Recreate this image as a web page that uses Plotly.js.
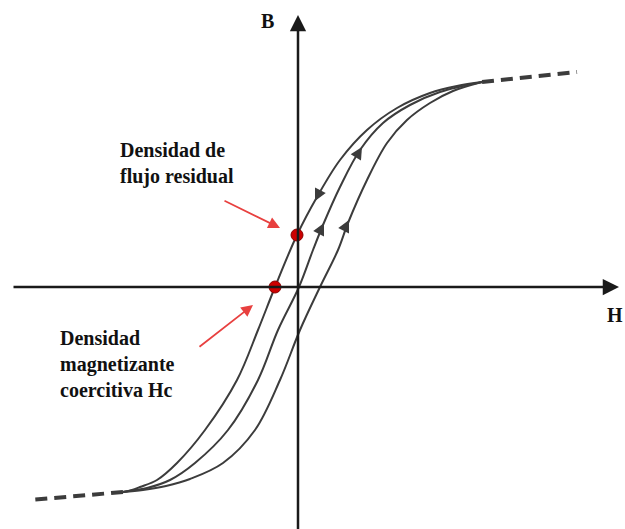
<!DOCTYPE html>
<html>
<head>
<meta charset="utf-8">
<script src="https://cdn.plot.ly/plotly-3.0.1.min.js"></script>
<style>html,body{margin:0;padding:0;background:#fff}#chart{width:625px;height:529px}</style>
</head>
<body>
<div id="chart"></div>
<script>
// Hysteresis loop, H (horizontal) vs B (vertical); units follow the picture
const leftH   = [-175,-166,-158,-141,-121,-93,-61,-40,-23,-1,19,42,69,99,132,159,184];
const leftB   = [-205,-203,-200,-193,-176,-143,-93,-43,0,52,90,127,157,179,194,201,205];
const midH    = [-175,-163,-151,-128,-103,-70,-40,-20,1,15,25,42,62,85,112,142,184];
const midB    = [-205,-203,-201,-193,-176,-143,-93,-43,0,37,62,100,137,164,182,195,205];
const rightH  = [-175,-155,-132,-108,-75,-43,-18,2,22,40,50,69,89,109,132,155,184];
const rightB  = [-205,-203,-199,-192,-176,-143,-93,-43,0,37,64,107,144,167,184,196,205];
const satTopH = [184,279];
const satTopB = [205,215];
const satBotH = [-175,-268];
const satBotB = [-205,-213];
// red points: coercive field and residual flux density
const ptH = [-23,-1];
const ptB = [0,52];
// direction arrows on branches: [tipH, tipB, tailH, tailB]
const dirArrows = [
  [17,86,22,96],
  [64,140,58,130],
  [26,64,21,54],
  [51,67,46,57]
];
// axes arrows
const axisX = {from:[-286,0], to:[321,0]};
const axisY = {from:[0,-245], to:[0,272]};
// callout arrows
const callouts = [
  {from:[-75,87], to:[-18,59]},
  {from:[-100,-61], to:[-45,-18]}
];
const labels = [
  {text:'Densidad de<br>flujo residual', H:-180, B:124},
  {text:'Densidad<br>magnetizante<br>coercitiva Hc', H:-240, B:-77}
];

const curveLine = {color:'#3c3c3c', width:2, shape:'spline', smoothing:1};
const dashLine = {color:'#3c3c3c', width:4, dash:'12px,7px'};
const traces = [
  {x:leftH, y:leftB, mode:'lines', line:curveLine, hoverinfo:'skip'},
  {x:midH, y:midB, mode:'lines', line:curveLine, hoverinfo:'skip'},
  {x:rightH, y:rightB, mode:'lines', line:curveLine, hoverinfo:'skip'},
  {x:satTopH, y:satTopB, mode:'lines', line:dashLine, hoverinfo:'skip'},
  {x:satBotH, y:satBotB, mode:'lines', line:dashLine, hoverinfo:'skip'},
  {x:ptH, y:ptB, mode:'markers', marker:{size:12, color:'#cc0000', line:{color:'#8a0000', width:1}}, hoverinfo:'skip'}
];

const FAM = '"Liberation Serif", "DejaVu Serif", "Times New Roman", serif';
const font = {family:FAM, size:20, color:'#111', weight:'bold'};
const annotations = [];
annotations.push({x:axisX.to[0], y:axisX.to[1], ax:axisX.from[0], ay:axisX.from[1], xref:'x', yref:'y', axref:'x', ayref:'y', text:'', showarrow:true, arrowhead:2, arrowsize:1.3, arrowwidth:2.5, arrowcolor:'#1a1a1a'});
annotations.push({x:axisY.to[0], y:axisY.to[1], ax:axisY.from[0], ay:axisY.from[1], xref:'x', yref:'y', axref:'x', ayref:'y', text:'', showarrow:true, arrowhead:2, arrowsize:1.3, arrowwidth:2.5, arrowcolor:'#1a1a1a'});
dirArrows.forEach(a => annotations.push({x:a[0], y:a[1], ax:a[2], ay:a[3], xref:'x', yref:'y', axref:'x', ayref:'y', text:'', showarrow:true, arrowhead:2, arrowsize:1.5, arrowwidth:1.6, arrowcolor:'#3c3c3c'}));
callouts.forEach(c => annotations.push({x:c.to[0], y:c.to[1], ax:c.from[0], ay:c.from[1], xref:'x', yref:'y', axref:'x', ayref:'y', text:'', showarrow:true, arrowhead:2, arrowsize:1.3, arrowwidth:1.8, arrowcolor:'#e8403f'}));
labels.forEach(l => annotations.push({x:l.H, y:l.B, xref:'x', yref:'y', text:l.text, showarrow:false, xanchor:'left', yanchor:'middle', align:'left', font:font}));
annotations.push({x:-31, y:266, xref:'x', yref:'y', text:'B', showarrow:false, font:font});
annotations.push({x:317, y:-28, xref:'x', yref:'y', text:'H', showarrow:false, font:font});

const layout = {
  width:625, height:529,
  margin:{l:0, r:0, t:0, b:0},
  paper_bgcolor:'#fff', plot_bgcolor:'#fff',
  showlegend:false,
  font:{family:FAM},
  xaxis:{range:[-298,327], visible:false, fixedrange:true},
  yaxis:{range:[-242,287], visible:false, fixedrange:true},
  annotations:annotations
};
Plotly.newPlot('chart', traces, layout, {staticPlot:true, displayModeBar:false});
</script>
</body>
</html>
